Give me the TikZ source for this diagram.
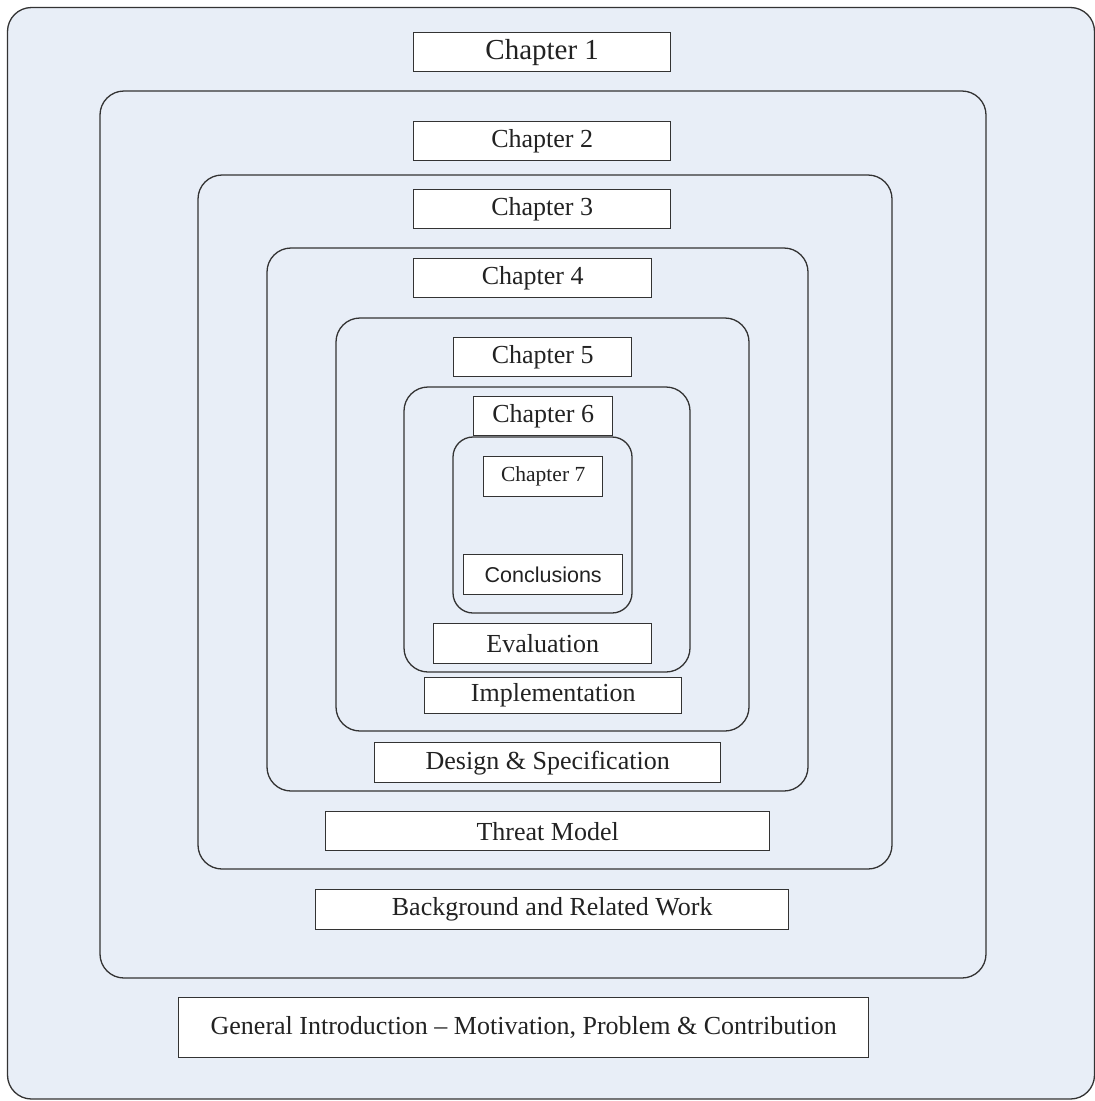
\documentclass[tikz,border=0pt]{standalone}
\usepackage{fontspec}
\setmainfont{Liberation Serif}
\newfontfamily\arialf{Liberation Sans}
\definecolor{bgblue}{HTML}{E8EEF7}
\definecolor{linegray}{HTML}{333333}
\definecolor{txt}{HTML}{222222}
\begin{document}
\begin{tikzpicture}[x=1pt,y=-1pt,
  frame/.style={draw=linegray, line width=1.3pt, rounded corners=24pt, fill=bgblue},
  chbox/.style={draw=linegray, line width=1.4pt, fill=white, inner sep=0pt, text=txt,
    font=\fontsize{26}{28}\selectfont, anchor=north west},
]
\useasboundingbox (0,0) rectangle (1095,1101);
\fill[white] (0,0) rectangle (1095,1101);
% nested frames
\draw[frame] (7.5,7.5) rectangle (1094.5,1099);
\draw[frame] (100,91) rectangle (986,978);
\draw[frame] (198,175) rectangle (892,869);
\draw[frame] (267,248) rectangle (808,791);
\draw[frame] (336,318) rectangle (749,731);
\draw[frame] (404,387) rectangle (690,672);
\draw[frame, rounded corners=20pt] (453,437) rectangle (632,613);
% boxes
\node[chbox, minimum width=257pt, minimum height=39pt, font=\fontsize{29}{31}\selectfont] (c1) at (413,32) {Chapter 1};
\node[chbox, minimum width=257pt, minimum height=39pt] (c2) at (413,121) {Chapter 2};
\node[chbox, minimum width=257pt, minimum height=39pt] (c3) at (413,189) {Chapter 3};
\node[chbox, minimum width=238pt, minimum height=39pt] (c4) at (413,258) {Chapter 4};
\node[chbox, minimum width=178pt, minimum height=39pt] (c5) at (453,337) {Chapter 5};
\node[chbox, minimum width=139pt, minimum height=39pt] (c6) at (473,396) {Chapter 6};
\node[chbox, minimum width=119pt, minimum height=40pt, font=\fontsize{21.5}{23}\selectfont] (c7) at (483,456) {Chapter 7};
\node[chbox, minimum width=159pt, minimum height=40pt, font=\arialf\fontsize{21.5}{23}\selectfont] (concl) at (463,554) {Conclusions};
\node[chbox, minimum width=218pt, minimum height=40pt] (eval) at (433,623) {Evaluation};
\node[chbox, minimum width=257pt, minimum height=36pt] (impl) at (424,677) {Implementation};
\node[chbox, minimum width=346pt, minimum height=40pt] (design) at (374,742) {Design \& Specification};
\node[chbox, minimum width=444pt, minimum height=39pt] (threat) at (325,811) {Threat Model};
\node[chbox, minimum width=473pt, minimum height=40pt] (bg) at (315,889) {Background and Related Work};
\node[chbox, minimum width=690pt, minimum height=60pt] (intro) at (178,997) {General Introduction -- Motivation, Problem \& Contribution};
\end{tikzpicture}
\end{document}
